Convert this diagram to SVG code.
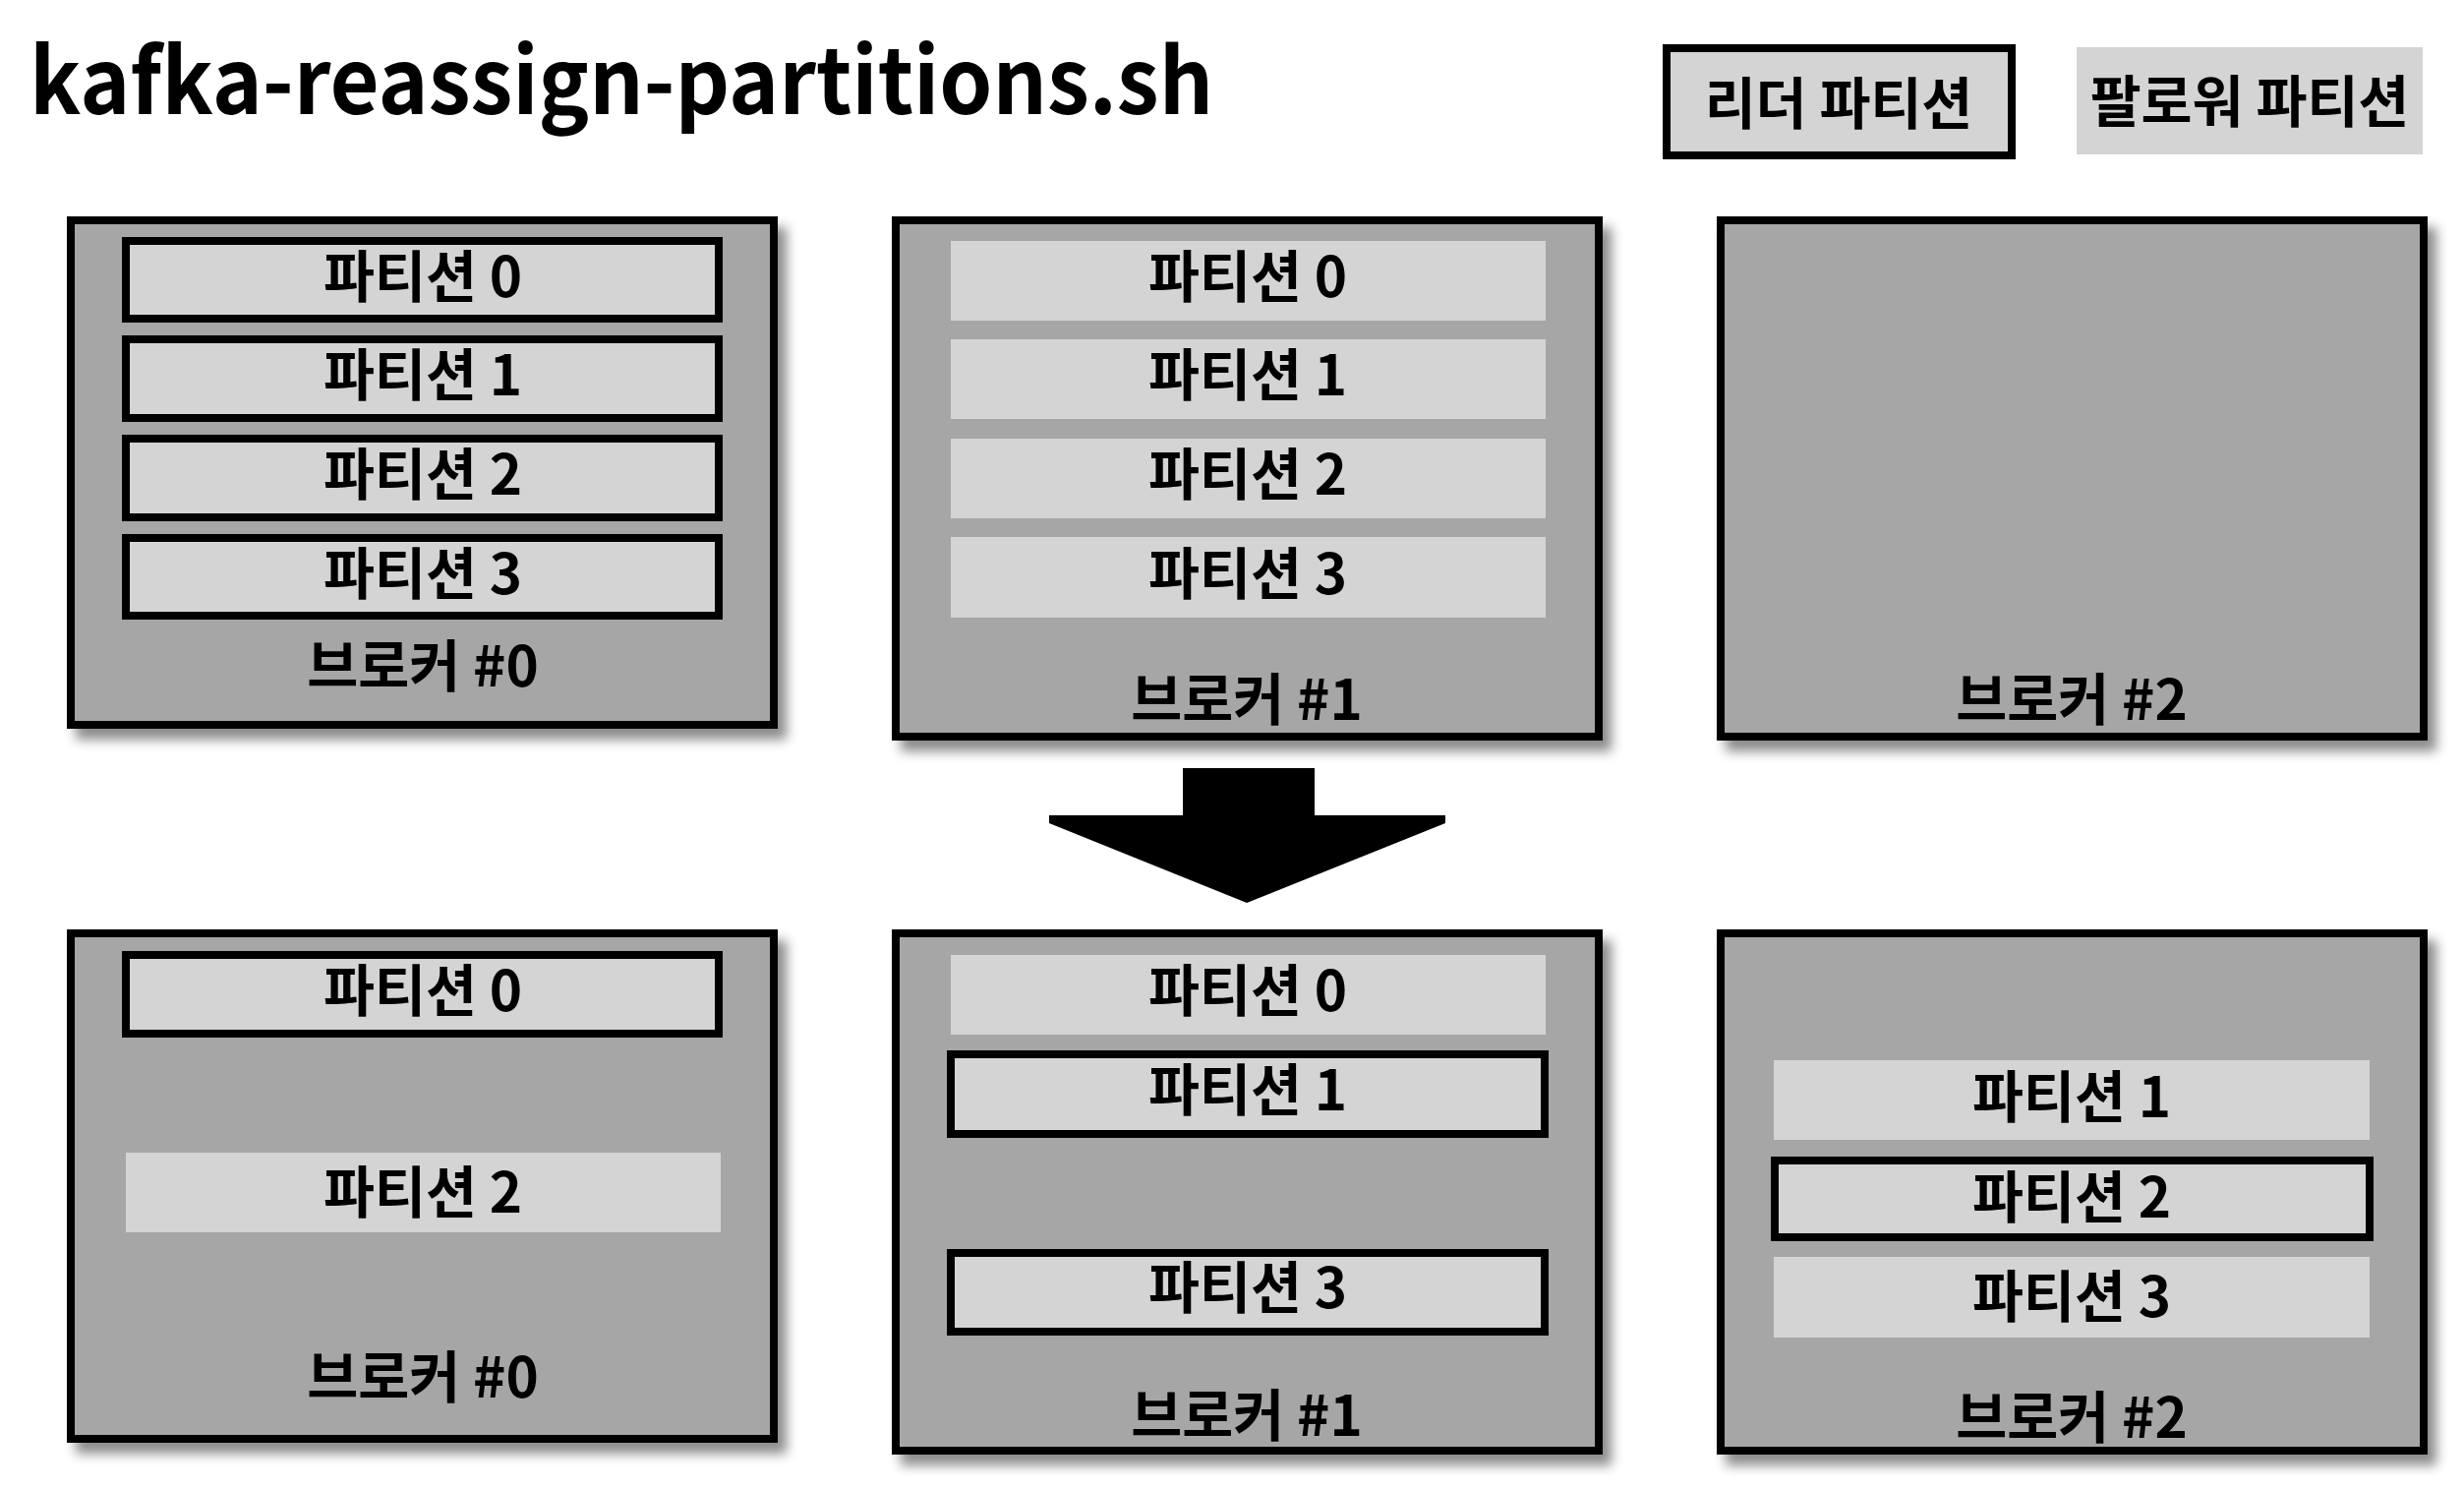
<svg xmlns="http://www.w3.org/2000/svg" width="2506" height="1514" viewBox="0 0 2506 1514">
<style>
.broker{fill:#a6a6a6;stroke:#000;stroke-width:8;filter:url(#sh)}
.leader{fill:#d4d4d4;stroke:#000;stroke-width:8}
.follower{fill:#d4d4d4;stroke:none}
.t{font-family:"Noto Sans CJK KR","Noto Sans",sans-serif;font-weight:700;font-size:56.5px;fill:#000;text-anchor:middle}
.bl{font-size:56.5px}
.title{font-family:"Noto Sans CJK KR","Noto Sans",sans-serif;font-weight:700;font-size:92px;fill:#000}
</style>
<defs>
<filter id="sh" x="-10%" y="-10%" width="125%" height="125%">
<feDropShadow dx="9" dy="11" stdDeviation="6" flood-color="#000" flood-opacity="0.45"/>
</filter>
</defs>
<rect width="2506" height="1514" fill="#fff"/>
<text class="title" x="30" y="116" textLength="1204" lengthAdjust="spacingAndGlyphs">kafka-reassign-partitions.sh</text>

<g id="legend-leader"><rect class="leader" x="1695" y="49" width="351" height="109"/><text class="t" x="1870" y="126">리더 파티션</text></g>
<g id="legend-follower"><rect class="follower" x="2112" y="48" width="352" height="109"/><text class="t" x="2288" y="124">팔로워 파티션</text></g>

<g id="broker0-before">
<rect class="broker" x="72" y="224" width="715" height="513"/>
<rect class="leader" x="128" y="245" width="603" height="79"/><text class="t" x="430" y="302">파티션 0</text>
<rect class="leader" x="128" y="345" width="603" height="80"/><text class="t" x="430" y="402">파티션 1</text>
<rect class="leader" x="128" y="446" width="603" height="80"/><text class="t" x="430" y="503">파티션 2</text>
<rect class="leader" x="128" y="547" width="603" height="79"/><text class="t" x="430" y="604">파티션 3</text>
<text class="t bl" x="430" y="698">브로커 #0</text>
</g>
<g id="broker1-before">
<rect class="broker" x="911" y="224" width="715" height="525"/>
<rect class="follower" x="967" y="245" width="605" height="81"/><text class="t" x="1269" y="302">파티션 0</text>
<rect class="follower" x="967" y="345" width="605" height="81"/><text class="t" x="1269" y="402">파티션 1</text>
<rect class="follower" x="967" y="446" width="605" height="81"/><text class="t" x="1269" y="503">파티션 2</text>
<rect class="follower" x="967" y="546" width="605" height="82"/><text class="t" x="1269" y="604">파티션 3</text>
<text class="t bl" x="1268" y="732">브로커 #1</text>
</g>
<g id="broker2-before">
<rect class="broker" x="1750" y="224" width="715" height="525"/>
<text class="t bl" x="2107" y="732">브로커 #2</text>
</g>

<g id="connectors">
<polygon points="1203,781 1337,781 1337,829 1470,829 1470,837 1268,918 1067,837 1067,829 1203,829" fill="#000"/>
</g>

<g id="broker0-after">
<rect class="broker" x="72" y="949" width="715" height="514"/>
<rect class="leader" x="128" y="971" width="603" height="80"/><text class="t" x="430" y="1028">파티션 0</text>
<rect class="follower" x="128" y="1172" width="605" height="81"/><text class="t" x="430" y="1233">파티션 2</text>
<text class="t bl" x="430" y="1421">브로커 #0</text>
</g>
<g id="broker1-after">
<rect class="broker" x="911" y="949" width="715" height="526"/>
<rect class="follower" x="967" y="971" width="605" height="81"/><text class="t" x="1269" y="1028">파티션 0</text>
<rect class="leader" x="967" y="1072" width="604" height="81"/><text class="t" x="1269" y="1129">파티션 1</text>
<rect class="leader" x="967" y="1274" width="604" height="80"/><text class="t" x="1269" y="1330">파티션 3</text>
<text class="t bl" x="1268" y="1460">브로커 #1</text>
</g>
<g id="broker2-after">
<rect class="broker" x="1750" y="949" width="715" height="526"/>
<rect class="follower" x="1804" y="1078" width="606" height="81"/><text class="t" x="2107" y="1136">파티션 1</text>
<rect class="leader" x="1805" y="1180" width="605" height="78"/><text class="t" x="2107" y="1238">파티션 2</text>
<rect class="follower" x="1804" y="1278" width="606" height="82"/><text class="t" x="2107" y="1339">파티션 3</text>
<text class="t bl" x="2107" y="1462">브로커 #2</text>
</g>
</svg>
